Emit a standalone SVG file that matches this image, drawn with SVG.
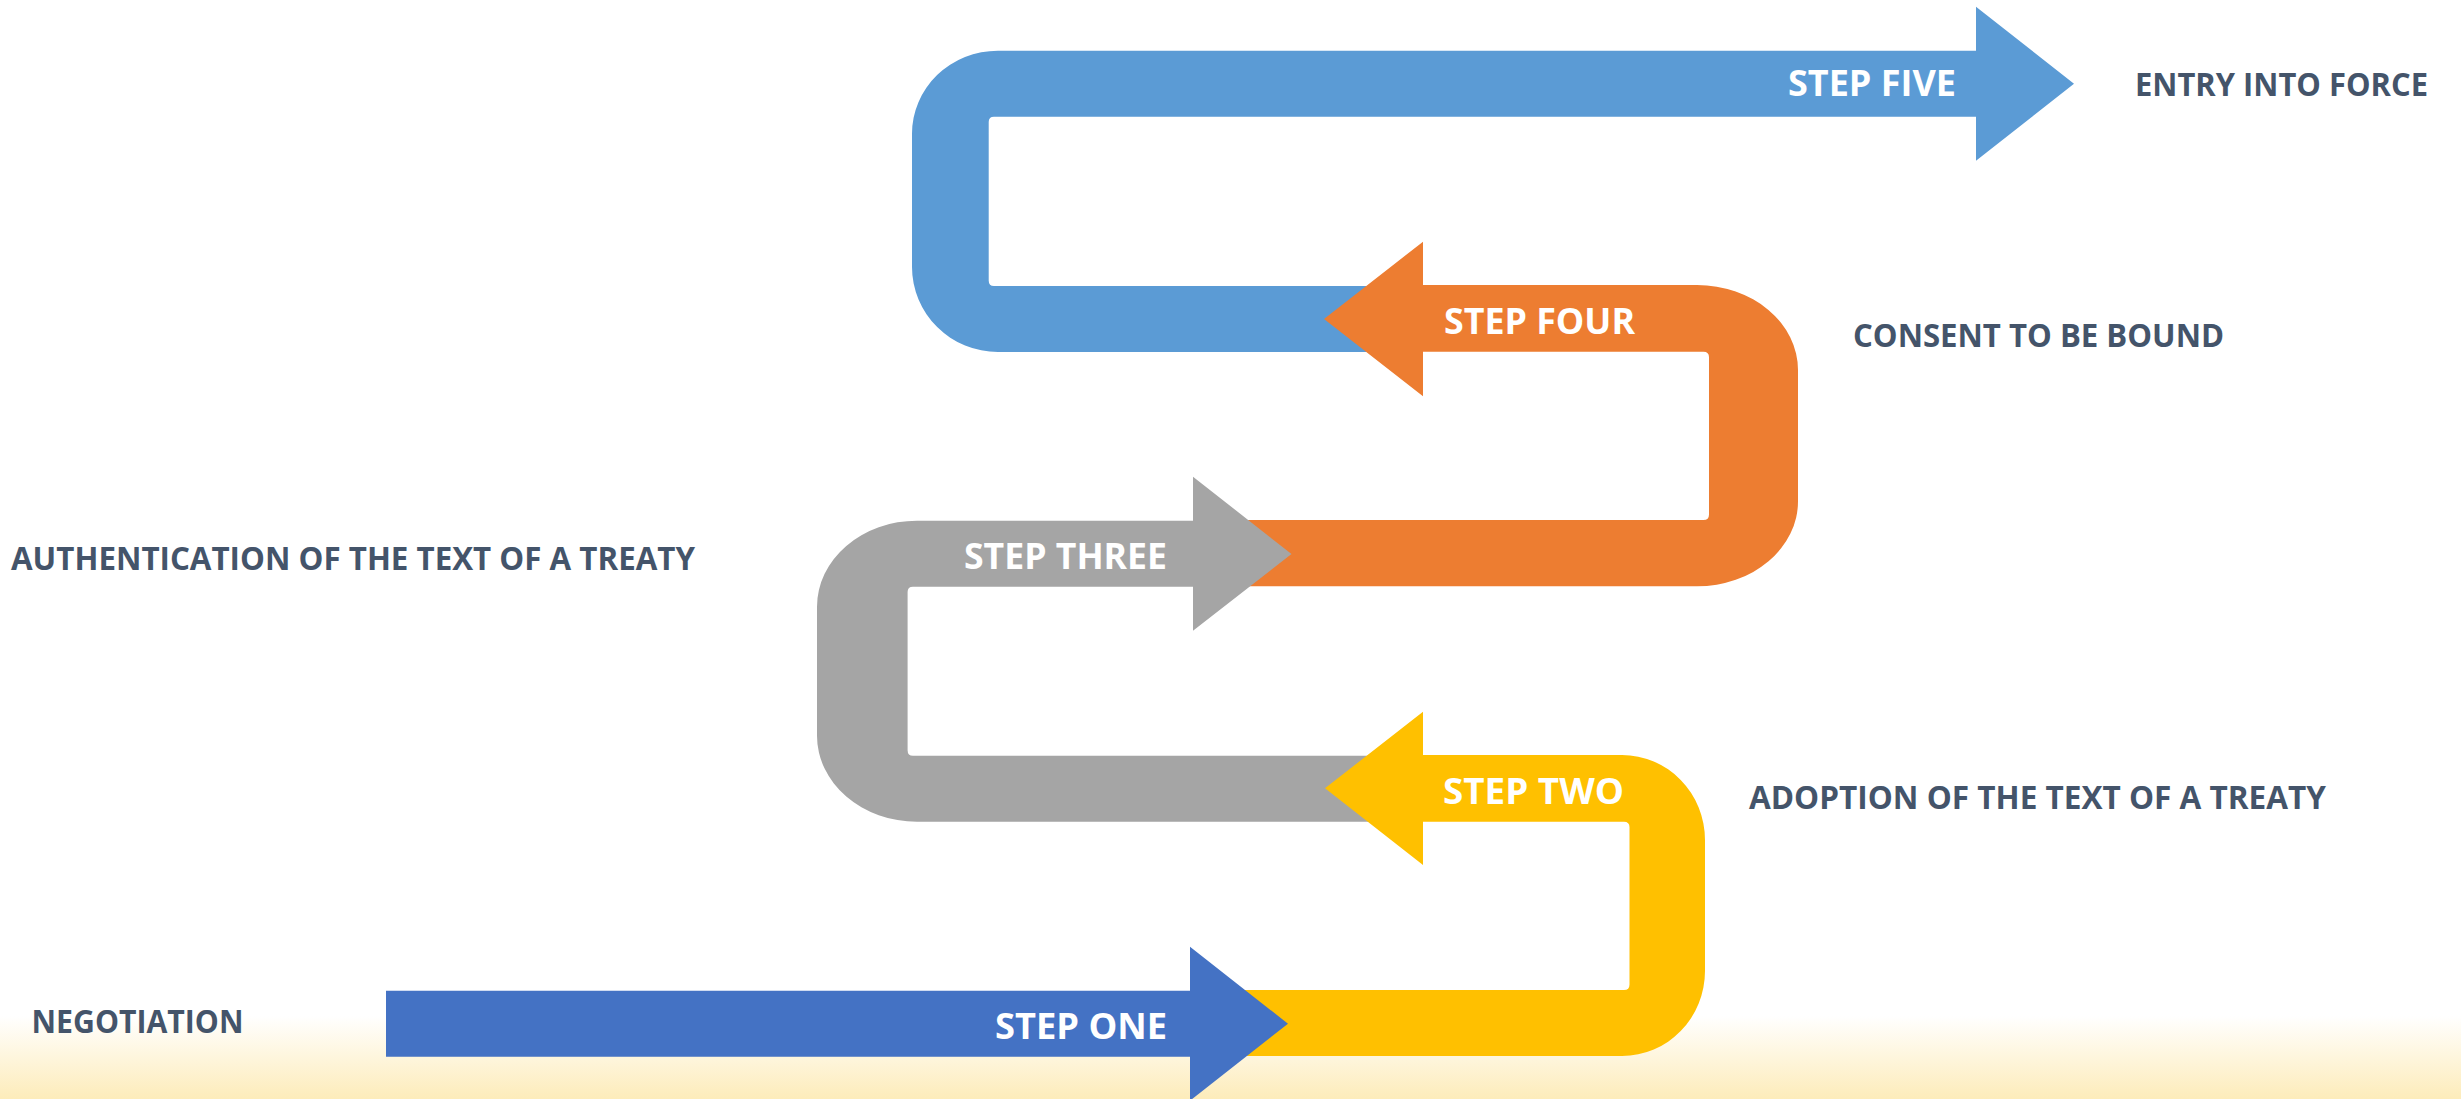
<svg xmlns="http://www.w3.org/2000/svg" width="2461" height="1099" viewBox="0 0 2461 1099">
  <defs>
    <linearGradient id="floorGlow" x1="0" y1="0" x2="0" y2="1">
      <stop offset="0" stop-color="#FDECBA" stop-opacity="0"/>
      <stop offset="1" stop-color="#FDECBA" stop-opacity="1"/>
    </linearGradient>
    <style>
      .step-label { font-family: "Open Sans", "Noto Sans", "Liberation Sans", sans-serif; font-weight: 700; font-size: 36px; fill: #FFFFFF; }
      .stage-label { font-family: "Open Sans", "Noto Sans", "Liberation Sans", sans-serif; font-weight: 700; font-size: 32px; fill: #44546A; }
      .s5 { fill: #5B9BD5; }
      .s4 { fill: #ED7D31; }
      .s3 { fill: #A5A5A5; }
      .s2 { fill: #FFC000; }
      .s1 { fill: #4472C4; }
    </style>
  </defs>

  <!-- page background with a warm band along the bottom -->
  <rect x="0" y="0" width="2461" height="1099" fill="#FFFFFF"/>
  <rect x="0" y="1016" width="2461" height="83" fill="url(#floorGlow)"/>

  <!-- bent arrows, drawn from the last step down so each earlier head sits on top -->
  <g id="step-five">
    <path class="s5" d="M 998 50.7 H 1976 V 6.7 L 2074 83.7 L 1976 160.7 V 116.7 H 994 Q 988.7 116.7 988.7 122 V 280.5 Q 988.7 286 994 286 H 1410 V 352 H 998 A 86 85 0 0 1 912 267 V 134 A 86 83 0 0 1 998 50.7 Z"/>
    <text class="step-label" x="1788" y="96" textLength="168" lengthAdjust="spacingAndGlyphs">STEP FIVE</text>
  </g>

  <g id="step-four">
    <path class="s4" d="M 1324 319 L 1423 241.7 V 285 H 1697 A 101 85 0 0 1 1798 370 V 501 A 101 85 0 0 1 1697 586.3 H 1230 V 520 H 1703.5 Q 1709 520 1709 514.5 V 357.2 Q 1709 351.7 1703.5 351.7 H 1423 V 396.3 Z"/>
    <text class="step-label" x="1444" y="334" textLength="191" lengthAdjust="spacingAndGlyphs">STEP FOUR</text>
  </g>

  <g id="step-three">
    <path class="s3" d="M 1291.5 554 L 1193 630.7 V 586.7 H 913 Q 907.6 586.7 907.6 592 V 750.2 Q 907.6 755.7 913 755.7 H 1400 V 821.7 H 917 A 100 86 0 0 1 817 735.7 V 606.7 A 100 86 0 0 1 917 520.7 H 1193 V 476.7 Z"/>
    <text class="step-label" x="964" y="569" textLength="203" lengthAdjust="spacingAndGlyphs">STEP THREE</text>
  </g>

  <g id="step-two">
    <path class="s2" d="M 1325 788.3 L 1423 711.7 V 755 H 1622 A 83 85 0 0 1 1705 840 V 971 A 83 85 0 0 1 1622 1056 H 1230 V 990 H 1624 Q 1629.5 990 1629.5 984.5 V 827.2 Q 1629.5 821.7 1624 821.7 H 1423 V 865 Z"/>
    <text class="step-label" x="1443" y="804" textLength="181" lengthAdjust="spacingAndGlyphs">STEP TWO</text>
  </g>

  <g id="step-one">
    <path class="s1" d="M 386 990.7 H 1190 V 946.7 L 1288 1023.7 L 1190 1100.7 V 1056.7 H 386 Z"/>
    <text class="step-label" x="995" y="1039" textLength="172" lengthAdjust="spacingAndGlyphs">STEP ONE</text>
  </g>

  <!-- stage names beside each step -->
  <g id="stage-entry-into-force">
    <text class="stage-label" x="2135" y="96" textLength="293" lengthAdjust="spacingAndGlyphs">ENTRY INTO FORCE</text>
  </g>
  <g id="stage-consent">
    <text class="stage-label" x="1853" y="347" textLength="371" lengthAdjust="spacingAndGlyphs">CONSENT TO BE BOUND</text>
  </g>
  <g id="stage-authentication">
    <text class="stage-label" x="11" y="570" textLength="684" lengthAdjust="spacingAndGlyphs">AUTHENTICATION OF THE TEXT OF A TREATY</text>
  </g>
  <g id="stage-adoption">
    <text class="stage-label" x="1749" y="809" textLength="577" lengthAdjust="spacingAndGlyphs">ADOPTION OF THE TEXT OF A TREATY</text>
  </g>
  <g id="stage-negotiation">
    <text class="stage-label" x="31.5" y="1033" textLength="212" lengthAdjust="spacingAndGlyphs">NEGOTIATION</text>
  </g>

  <!-- the flow is carried by the bent arrows themselves; no separate connector lines -->
  <g id="connectors"></g>
</svg>
